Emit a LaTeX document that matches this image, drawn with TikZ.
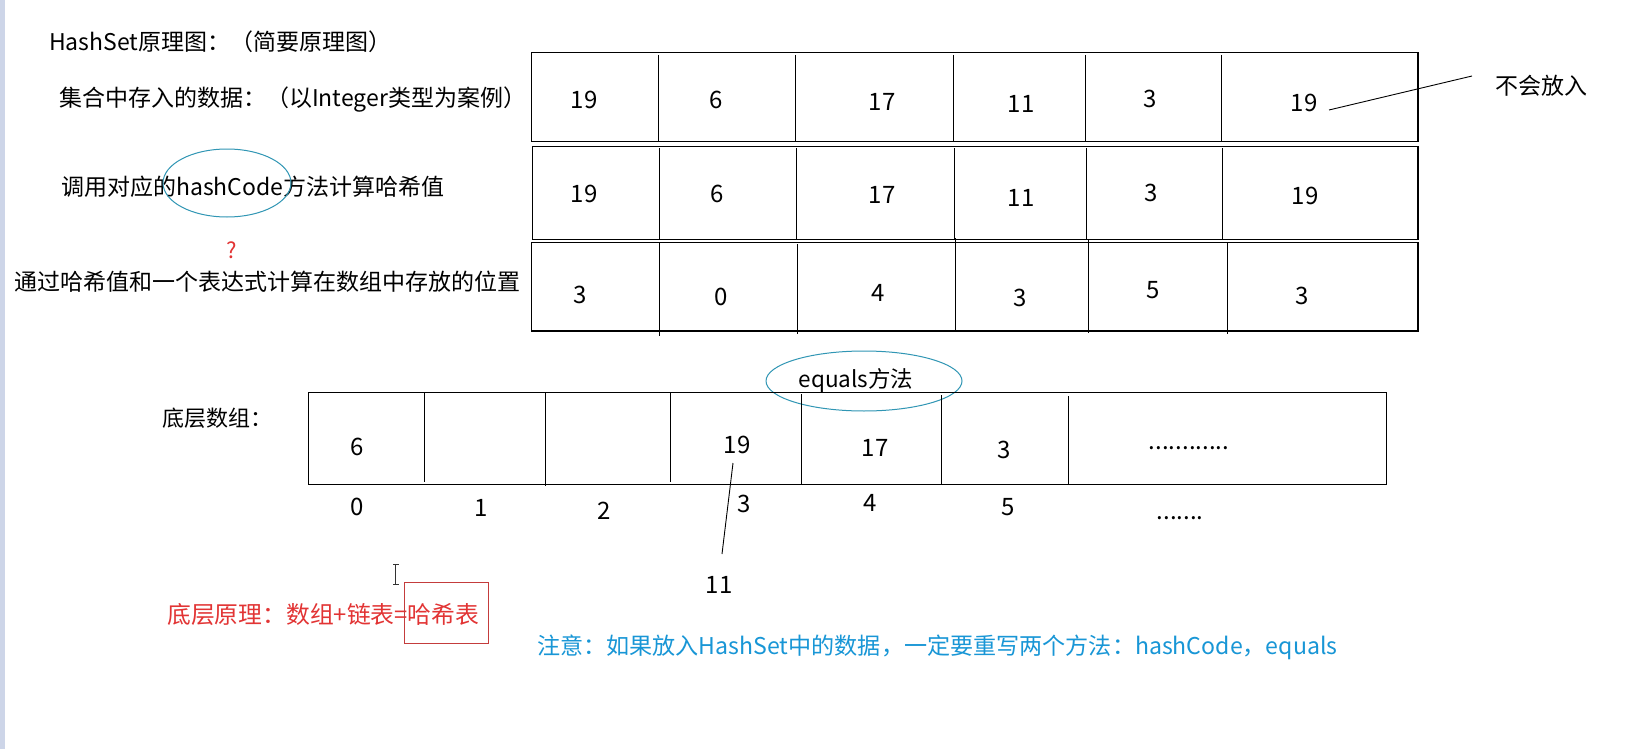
\documentclass[tikz,border=0pt]{standalone}
\usepackage{fontspec}
\setmainfont{Noto Sans CJK SC}
\definecolor{redc}{RGB}{226,52,52}
\definecolor{redbox}{RGB}{196,60,60}
\definecolor{bluec}{RGB}{24,150,214}
\definecolor{ovalc}{RGB}{48,150,180}
\definecolor{stripc}{RGB}{205,213,232}
\begin{document}
\begin{tikzpicture}[x=1pt,y=-1pt,
  frame/.style={line width=1.2pt},
  divider/.style={line width=1pt},
  lbl/.style={inner sep=0pt, font=\fontsize{23}{26}\selectfont, anchor=west},
  num/.style={inner sep=1pt, font=\fontsize{24}{27}\selectfont},
  conn/.style={line width=0.9pt},
  oval/.style={draw=ovalc, line width=1pt}]
\useasboundingbox[fill=white] (0,0) rectangle (1643,749);
\fill[stripc] (0,0) rectangle (5,749);

% labels
\node[lbl] (title) at (49,42) {HashSet原理图：（简要原理图）};
\node[lbl] (lab1) at (59,100) {集合中存入的数据：（以Integer类型为案例）};
\node[lbl] (lab2) at (61,187) {调用对应的hashCode方法计算哈希值};
\node[lbl] (lab3) at (14,282) {通过哈希值和一个表达式计算在数组中存放的位置};
\node[lbl, font=\fontsize{22}{26}\selectfont] (lab4) at (162,418) {底层数组：};
\node[lbl, text=redc, font=\fontsize{23.8}{26}\selectfont] (lab5) at (167,615) {底层原理：数组+链表=哈希表};
\node[lbl, text=bluec, font=\fontsize{23.1}{26}\selectfont] (note) at (537,647) {注意：如果放入HashSet中的数据，一定要重写两个方法：hashCode，equals};
\node[lbl] (nofang) at (1495,86) {不会放入};
\node[num, text=redc, font=\fontsize{22}{24}\selectfont] (q) at (232,250) {?};

% ovals
\draw[oval] (227,183) ellipse [x radius=64pt, y radius=34pt];
\draw[oval] (864,381) ellipse [x radius=98pt, y radius=30pt];
\node[num, font=\fontsize{22.5}{26}\selectfont] (eq) at (856,381) {equals方法};

% row 1
\draw[frame] (531.5,52.3) rectangle (1418,141.7);
\foreach \x in {658.3,795.5,953.4,1085.4,1221.5}
  \draw[divider] (\x,55) -- (\x,141.7);
% row 2
\draw[frame] (532.6,146.7) rectangle (1418,239.8);
\foreach \x in {659.5,796.7,954.6,1086.6,1222.6}
  \draw[divider] (\x,148) -- (\x,239.8);
% row 3
\draw[frame] (531.5,242.5) rectangle (1418,331);
\draw[divider] (659.5,242.5) -- (659.5,336);
\draw[divider] (797,244) -- (797,334);
\draw[divider] (955.7,238) -- (955.7,331);
\draw[divider] (1088,239) -- (1088,333);
\draw[divider] (1227,242.5) -- (1227,334);

% row values
\node[num] (r1a) at (584,100) {19};
\node[num] (r1b) at (716,100) {6};
\node[num] (r1c) at (882,102) {17};
\node[num] (r1d) at (1021,104) {11};
\node[num] (r1e) at (1150,99) {3};
\node[num] (r1f) at (1304,103) {19};

\node[num] (r2a) at (584,194) {19};
\node[num] (r2b) at (717,194) {6};
\node[num] (r2c) at (882,195) {17};
\node[num] (r2d) at (1021,198) {11};
\node[num] (r2e) at (1151,193) {3};
\node[num] (r2f) at (1305,196) {19};

\node[num] (r3a) at (580,295) {3};
\node[num] (r3b) at (721,297) {0};
\node[num] (r3c) at (878,293) {4};
\node[num] (r3d) at (1020,298) {3};
\node[num] (r3e) at (1153,290) {5};
\node[num] (r3f) at (1302,296) {3};

% connector to 不会放入
\coordinate (l1a) at (1329,110);
\coordinate (l1b) at (1472,76);
\draw[conn] (l1a) -- (l1b);

% bottom array
\draw[frame] (308.4,392.3) rectangle (1386.6,484.3);
\draw[divider] (424.3,392) -- (424.3,482);
\draw[divider] (545.3,392) -- (545.3,486);
\draw[divider] (670.4,392) -- (670.4,482);
\draw[divider] (801.3,394) -- (801.3,484);
\draw[divider] (941.5,395) -- (941.5,484);
\draw[divider] (1068.3,396) -- (1068.3,484);

\node[num] (b0) at (357,447) {6};
\node[num] (b3) at (737,445) {19};
\node[num] (b4) at (875,448) {17};
\node[num] (b5) at (1004.5,450) {3};
\node[num, anchor=base] (bdots) at (1189,449) {............};

\node[num] (i0) at (357,507) {0};
\node[num] (i1) at (481,508) {1};
\node[num] (i2) at (604,511) {2};
\node[num] (i3) at (744,504) {3};
\node[num] (i4) at (870,503) {4};
\node[num] (i5) at (1008,507) {5};
\node[num, anchor=base] (idots) at (1180,519) {.......};

\node[num] (n11) at (719,585) {11};
\coordinate (l2a) at (733,463);
\coordinate (l2b) at (722,554);
\draw[conn] (l2a) -- (l2b);

% red box
\node[draw=redbox, line width=1pt, minimum width=84pt, minimum height=61pt, inner sep=0pt] (hbox) at (446,612.5) {};

% text cursor
\draw[line width=1pt, black!80] (393,564) -- (398.5,564) (395.7,564) -- (395.7,584) (393,584) -- (398.5,584);
\end{tikzpicture}
\end{document}
